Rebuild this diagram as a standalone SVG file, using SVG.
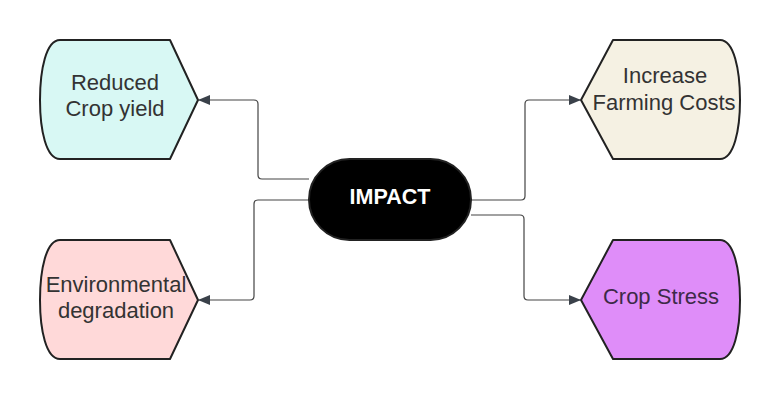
<svg xmlns="http://www.w3.org/2000/svg" width="780" height="400" viewBox="0 0 780 400">
<style>
.node{stroke:#222;stroke-width:2;stroke-linejoin:round}
.lbl{font-family:"Liberation Sans",Arial,sans-serif;font-size:22px;fill:#333;text-anchor:middle}
.conn{fill:none;stroke:#444;stroke-width:1.2}
</style>
<defs>
<marker id="arr" markerWidth="12" markerHeight="10" refX="11" refY="5" orient="auto" markerUnits="userSpaceOnUse">
<path d="M0,0 L12,5 L0,10 Z" fill="#3a414a"/>
</marker>
</defs>
<rect width="780" height="400" fill="#fff"/>
<g id="connectors">
<path class="conn" d="M309,179 L262,179 Q258,179 258,175 L258,104 Q258,100 254,100 L199,100" marker-end="url(#arr)"/>
<path class="conn" d="M309,200 L258,200 Q254,200 254,204 L254,296 Q254,300 250,300 L199,300" marker-end="url(#arr)"/>
<path class="conn" d="M471,200 L521,200 Q525,200 525,196 L525,104 Q525,100 529,100 L580,100" marker-end="url(#arr)"/>
<path class="conn" d="M471,215 L520,215 Q524,215 524,219 L524,296 Q524,300 528,300 L580,300" marker-end="url(#arr)"/>
</g>
<g id="impact">
<rect x="309" y="159" width="162" height="81" rx="40.5" fill="#000" stroke="#222" stroke-width="2"/>
<text x="390" y="204" style="font-family:'Liberation Sans',Arial,sans-serif;font-size:21.5px;font-weight:bold;fill:#fff;text-anchor:middle">IMPACT</text>
</g>
<g id="reduced-crop-yield">
<path class="node" fill="#d8f8f4" d="M60,40 L170,40 L198,100 L170,159 L60,159 C46,159 40,130 40,100 C40,70 46,40 60,40 Z"/>
<text class="lbl" x="115" y="90">Reduced</text>
<text class="lbl" x="115" y="116">Crop yield</text>
</g>
<g id="environmental-degradation">
<path class="node" fill="#ffd9d9" d="M60,240 L170,240 L198,300 L170,359 L60,359 C46,359 40,330 40,300 C40,270 46,240 60,240 Z"/>
<text class="lbl" x="116" y="292">Environmental</text>
<text class="lbl" x="116" y="318">degradation</text>
</g>
<g id="increase-farming-costs">
<path class="node" fill="#f5f1e3" d="M613,40 L720,40 C734,40 740,70 740,100 C740,130 734,159 720,159 L613,159 L581,100 Z"/>
<text class="lbl" x="665" y="83">Increase</text>
<text class="lbl" x="664" y="110">Farming Costs</text>
</g>
<g id="crop-stress">
<path class="node" fill="#df8df9" d="M613,240 L720,240 C734,240 740,270 740,300 C740,330 734,359 720,359 L613,359 L581,300 Z"/>
<text class="lbl" x="661" y="304" style="fill:#3d2a48">Crop Stress</text>
</g>
</svg>
